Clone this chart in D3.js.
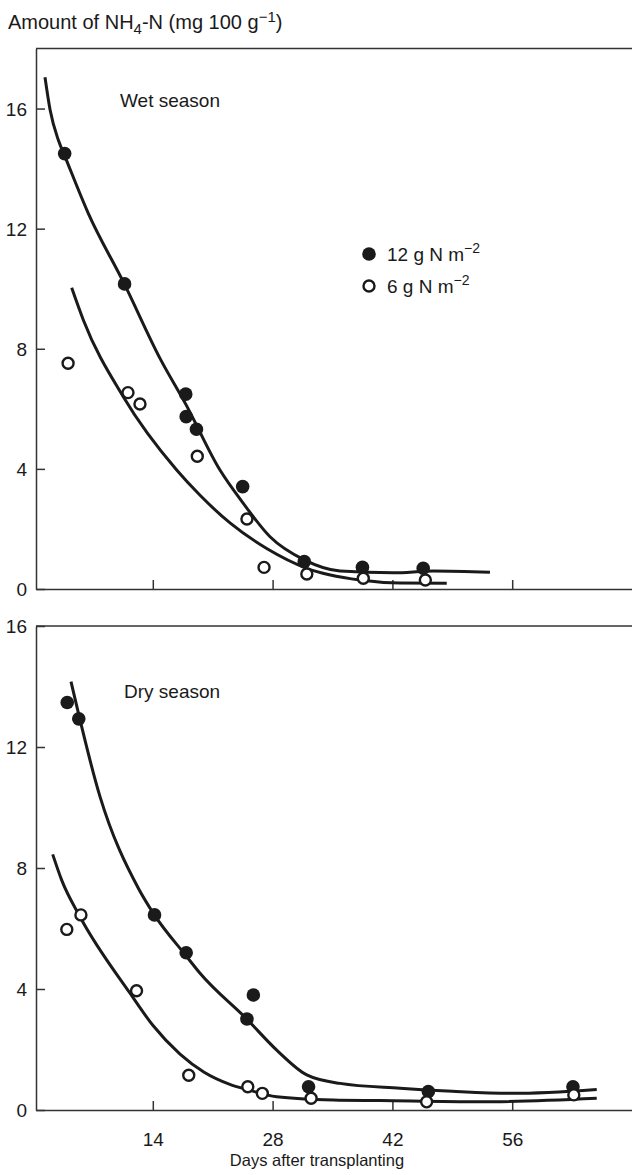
<!DOCTYPE html>
<html>
<head>
<meta charset="utf-8">
<script src="https://cdn.jsdelivr.net/npm/d3@7"></script>
<style>
  body { margin: 0; background: #fff; }
  svg { font-family: "Liberation Sans", Arial, sans-serif; }
</style>
</head>
<body>
<div id="chart"></div>
<script>
// Wet season, 12 g N m-2 (observed)
const wetHighDays = [3.7, 10.7, 17.85, 17.9, 19.1, 24.5, 31.7, 38.5, 45.6];
const wetHighVals = [14.5, 10.16, 6.49, 5.74, 5.32, 3.41, 0.91, 0.72, 0.69];
// Wet season, 6 g N m-2 (observed)
const wetLowDays = [4.1, 11.1, 12.5, 19.2, 25.0, 27.0, 32.0, 38.6, 45.85];
const wetLowVals = [7.52, 6.54, 6.16, 4.42, 2.33, 0.72, 0.50, 0.36, 0.30];
// Dry season, 12 g N m-2 (observed)
const dryHighDays = [4.0, 5.35, 14.2, 17.9, 25.0, 25.75, 32.2, 46.2, 63.1];
const dryHighVals = [13.47, 12.93, 6.45, 5.20, 3.01, 3.80, 0.77, 0.61, 0.77];
// Dry season, 6 g N m-2 (observed)
const dryLowDays = [3.95, 5.6, 12.1, 18.2, 25.1, 26.8, 32.5, 46.0, 63.2];
const dryLowVals = [5.97, 6.45, 3.94, 1.15, 0.77, 0.55, 0.39, 0.27, 0.50];

// fitted curves
const wetHighCurveDays = [1.4, 2.0, 2.96, 3.74, 6.46, 10.67, 14.84, 17.88, 21.85, 24.58, 27.7, 31.7, 35.88, 42.1, 46.78, 53.4];
const wetHighCurveVals = [17.04, 15.95, 14.95, 14.4, 12.51, 10.16, 7.68, 6.14, 3.96, 2.85, 1.74, 0.97, 0.6, 0.54, 0.6, 0.56];
const wetLowCurveDays = [4.52, 5.88, 10.55, 16.79, 19.52, 23.02, 27.31, 31.99, 38.21, 42.89, 48.35];
const wetLowCurveVals = [10.03, 8.96, 6.40, 3.96, 3.12, 2.2, 1.35, 0.69, 0.30, 0.2, 0.19];
const dryHighCurveDays = [4.44, 7.83, 12.31, 14.18, 17.88, 19.52, 24.97, 28.48, 31.99, 35.88, 42.89, 49.0, 56.13, 65.88];
const dryHighCurveVals = [14.16, 10.36, 7.33, 6.45, 5.1, 4.52, 3.01, 1.98, 1.16, 0.88, 0.72, 0.62, 0.55, 0.68];
const dryLowCurveDays = [2.3, 3.35, 5.49, 11.34, 14.0, 17.18, 20.0, 23.0, 25.0, 28.48, 35.1, 40.55, 52.24, 65.88];
const dryLowCurveVals = [8.45, 7.6, 6.39, 3.86, 2.8, 1.85, 1.25, 0.85, 0.68, 0.44, 0.33, 0.31, 0.27, 0.39];

const xTicks = [14, 28, 42, 56];
const yTicks = [0, 4, 8, 12, 16];

const width = 632, height = 1175;
const fontSize = 19;
const ink = "#1a1a1a";

const svg = d3.select("#chart").append("svg")
    .attr("width", width)
    .attr("height", height);

const x = d3.scaleLinear().domain([0.35, 70]).range([36, 632]);

const zip = (ds, vs) => ds.map((d, i) => ({d: d, v: vs[i]}));

const panels = [
    {label: "Wet season", top: 18, y: d3.scaleLinear().domain([0, 18]).range([589, 48.5]),
     labelPos: [120, 107], xLabels: false,
     high: zip(wetHighDays, wetHighVals), low: zip(wetLowDays, wetLowVals),
     highCurve: zip(wetHighCurveDays, wetHighCurveVals), lowCurve: zip(wetLowCurveDays, wetLowCurveVals)},
    {label: "Dry season", top: 16, y: d3.scaleLinear().domain([0, 16]).range([1110, 626]),
     labelPos: [124, 698], xLabels: true,
     high: zip(dryHighDays, dryHighVals), low: zip(dryLowDays, dryLowVals),
     highCurve: zip(dryHighCurveDays, dryHighCurveVals), lowCurve: zip(dryLowCurveDays, dryLowCurveVals)}
];

panels.forEach(p => {
    const g = svg.append("g");
    const y = p.y;

    // top frame line
    g.append("line")
        .attr("x1", x(0.35)).attr("x2", x(70))
        .attr("y1", y(p.top)).attr("y2", y(p.top))
        .attr("stroke", "#333").attr("stroke-width", 1.5);

    const yAxis = g.append("g")
        .attr("transform", "translate(" + x(0.35) + ",0)")
        .call(d3.axisLeft(y).tickValues(yTicks).tickSizeInner(-9).tickSizeOuter(0).tickPadding(9));

    const xAxis = g.append("g")
        .attr("transform", "translate(0," + y(0) + ")")
        .call(d3.axisBottom(x).tickValues(xTicks).tickSizeInner(-9).tickSizeOuter(0).tickPadding(23)
              .tickFormat(p.xLabels ? d3.format("d") : ""));

    [yAxis, xAxis].forEach(a => {
        a.selectAll("path, line").attr("stroke", "#333").attr("stroke-width", 1.5);
        a.selectAll("text").attr("font-size", fontSize).attr("fill", ink)
            .attr("font-family", "Liberation Sans, Arial, sans-serif");
    });
    yAxis.selectAll("text").attr("dy", "0.36em");

    g.append("text")
        .attr("x", p.labelPos[0]).attr("y", p.labelPos[1])
        .attr("font-size", fontSize).attr("fill", ink)
        .text(p.label);

    const line = d3.line()
        .x(d => x(d.d)).y(d => y(d.v))
        .curve(d3.curveMonotoneX);

    [p.highCurve, p.lowCurve].forEach(c => {
        g.append("path")
            .attr("d", line(c))
            .attr("fill", "none")
            .attr("stroke", ink)
            .attr("stroke-width", 3);
    });

    g.selectAll(".high").data(p.high).enter()
        .append("circle")
        .attr("class", "high")
        .attr("cx", d => x(d.d)).attr("cy", d => y(d.v))
        .attr("r", 6.8)
        .attr("fill", ink);

    g.selectAll(".low").data(p.low).enter()
        .append("circle")
        .attr("class", "low")
        .attr("cx", d => x(d.d)).attr("cy", d => y(d.v))
        .attr("r", 5.5)
        .attr("fill", "#fff")
        .attr("stroke", ink)
        .attr("stroke-width", 2.4);
});

// y axis title with sub/superscripts
const title = svg.append("text")
    .attr("x", 8).attr("y", 29)
    .attr("font-size", 20).attr("fill", ink);
title.append("tspan").text("Amount of NH");
title.append("tspan").attr("font-size", 15).attr("dy", 5).text("4");
title.append("tspan").attr("dy", -5).text("-N (mg 100 g");
title.append("tspan").attr("font-size", 15).attr("dy", -7).text("\u22121");
title.append("tspan").attr("dy", 7).text(")");

// x axis title
svg.append("text")
    .attr("x", 317).attr("y", 1166)
    .attr("text-anchor", "middle")
    .attr("font-size", 16.5).attr("fill", ink)
    .text("Days after transplanting");

// legend
const legendItems = [
    {label: "12 g N m", filled: true, y: 254},
    {label: "6 g N m", filled: false, y: 286}
];
const legend = svg.append("g");
legendItems.forEach(it => {
    legend.append("circle")
        .attr("cx", 369).attr("cy", it.y)
        .attr("r", it.filled ? 6.8 : 5.5)
        .attr("fill", it.filled ? ink : "#fff")
        .attr("stroke", it.filled ? "none" : ink)
        .attr("stroke-width", 2.4);
    const t = legend.append("text")
        .attr("x", 387).attr("y", it.y + 7)
        .attr("font-size", fontSize).attr("fill", ink);
    t.append("tspan").text(it.label);
    t.append("tspan").attr("font-size", 14).attr("dy", -8).text("\u22122");
});
</script>
</body>
</html>
